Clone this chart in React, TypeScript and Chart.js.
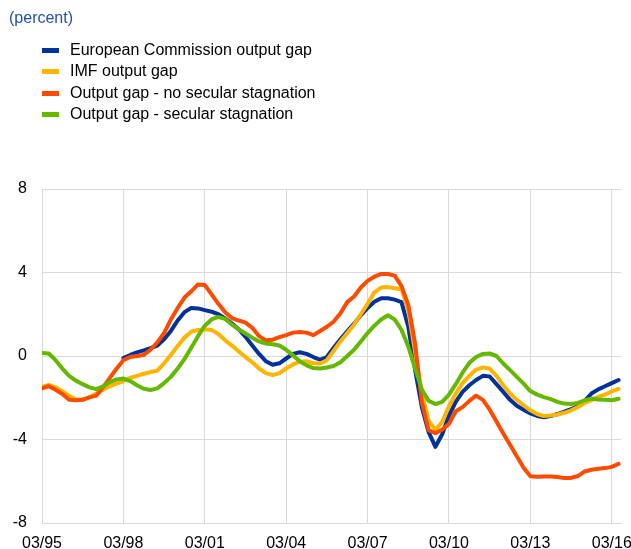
import React, { useEffect, useRef } from "react";
import { Chart, registerables } from "chart.js";

Chart.register(...registerables);

const FONT = "'Liberation Sans', Arial, Helvetica, sans-serif";

// Quarter index 0 = Q1 1995 ... 85 = Q2 2016
const tickPositions = [0, 12, 24, 36, 48, 60, 72, 84];
const tickLabels = ["03/95", "03/98", "03/01", "03/04", "03/07", "03/10", "03/13", "03/16"];
const yTicks = [-8, -4, 0, 4, 8];

const ecGap: (number | null)[] = [
  null, null, null, null, null, null, null, null, null, null, null, null,
  -0.1, 0.05, 0.17, 0.27, 0.38, 0.5, 0.8, 1.2,
  1.7, 2.1, 2.3, 2.28, 2.2, 2.12, 2.0, 1.8, 1.55, 1.28,
  0.92, 0.5, 0.1, -0.25, -0.42, -0.35, -0.12, 0.1, 0.18, 0.1,
  -0.05, -0.18, -0.05, 0.4, 0.8, 1.18, 1.55, 1.95, 2.3, 2.6,
  2.77, 2.77, 2.7, 2.58, 1.4, -0.65, -2.45, -3.65, -4.35, -3.75,
  -2.85, -2.2, -1.72, -1.4, -1.15, -0.95, -0.98, -1.35, -1.72, -2.1,
  -2.38, -2.57, -2.75, -2.87, -2.93, -2.88, -2.78, -2.67, -2.55, -2.4,
  -2.15, -1.8, -1.6, -1.45, -1.3, -1.15,
];

const imfGap: number[] = [
  -1.48, -1.38, -1.5, -1.7, -1.9, -2.08, -2.08, -1.98, -1.8, -1.62,
  -1.45, -1.32, -1.2, -1.05, -0.95, -0.85, -0.77, -0.7, -0.35, 0.05,
  0.48, 0.88, 1.16, 1.25, 1.28, 1.25, 1.05, 0.75, 0.5, 0.22,
  -0.05, -0.3, -0.6, -0.82, -0.92, -0.82, -0.6, -0.4, -0.28, -0.25,
  -0.35, -0.36, -0.2, 0.25, 0.7, 1.1, 1.5, 2.0, 2.5, 3.05,
  3.28, 3.3, 3.25, 3.2, 2.2, 0.2, -1.8, -3.1, -3.55, -3.15,
  -2.4, -1.8, -1.3, -0.95, -0.65, -0.55, -0.6, -0.95, -1.4, -1.8,
  -2.1, -2.36, -2.6, -2.78, -2.88, -2.85, -2.8, -2.72, -2.6, -2.45,
  -2.25, -2.12, -1.95, -1.85, -1.7, -1.58,
];

const noSecular: number[] = [
  -1.55, -1.45, -1.62, -1.82, -2.1, -2.12, -2.1, -1.98, -1.9, -1.5,
  -1.05, -0.6, -0.2, -0.05, 0.0, 0.05, 0.3, 0.65, 1.1, 1.75,
  2.3, 2.8, 3.1, 3.43, 3.4, 2.95, 2.5, 2.1, 1.82, 1.7,
  1.6, 1.35, 0.95, 0.75, 0.78, 0.9, 1.0, 1.12, 1.15, 1.12,
  1.0, 1.2, 1.4, 1.65, 2.05, 2.58, 2.85, 3.28, 3.6, 3.8,
  3.93, 3.93, 3.85, 3.35, 2.45, 0.6, -2.2, -3.55, -3.7, -3.52,
  -3.25, -2.65, -2.45, -2.15, -1.9, -2.1, -2.57, -3.14, -3.71, -4.25,
  -4.8, -5.35, -5.76, -5.79, -5.77, -5.77, -5.8, -5.85, -5.84, -5.75,
  -5.53, -5.45, -5.4, -5.37, -5.31, -5.17,
];

const secular: number[] = [
  0.14, 0.12, -0.2, -0.6, -0.95, -1.18, -1.35, -1.5, -1.59, -1.45,
  -1.25, -1.12, -1.08, -1.2, -1.4, -1.57, -1.63, -1.55, -1.3, -1.0,
  -0.6, -0.15, 0.4, 0.95, 1.45, 1.75, 1.87, 1.78, 1.5, 1.28,
  1.08, 0.88, 0.7, 0.6, 0.56, 0.5, 0.3, 0.03, -0.25, -0.45,
  -0.58, -0.6, -0.55, -0.48, -0.3, 0.0, 0.3, 0.7, 1.1, 1.45,
  1.75, 1.95, 1.75, 1.25, 0.45, -0.6, -1.6, -2.15, -2.3, -2.2,
  -1.85, -1.35, -0.8, -0.33, -0.05, 0.1, 0.12, 0.0, -0.36, -0.68,
  -1.0, -1.32, -1.68, -1.85, -1.97, -2.07, -2.2, -2.28, -2.3, -2.25,
  -2.12, -2.04, -2.08, -2.1, -2.12, -2.05,
];

const seriesNames = [
  "European Commission output gap",
  "IMF output gap",
  "Output gap - no secular stagnation",
  "Output gap - secular stagnation",
];
const seriesColors = ["#003299", "#FFB400", "#FF4B00", "#65B800"];
const seriesData = [ecGap, imfGap, noSecular, secular];
const drawOrder = [4, 3, 2, 1];

export default function App() {
  const ref = useRef<HTMLCanvasElement>(null);

  useEffect(() => {
    if (!ref.current) return;
    const datasets = seriesData.map((arr, k) => ({
      label: seriesNames[k],
      data: arr.map((y, i) => ({ x: i, y })),
      borderColor: seriesColors[k],
      backgroundColor: seriesColors[k],
      borderWidth: 4,
      pointRadius: 0,
      tension: 0,
      fill: false,
      spanGaps: false,
      borderJoinStyle: "round" as const,
      borderCapStyle: "round" as const,
      order: drawOrder[k],
    }));
    const chart = new Chart(ref.current, {
      type: "line",
      data: { datasets },
      options: {
        animation: false,
        responsive: false,
        layout: { padding: { top: 189, right: 10, left: 0, bottom: 0 } },
        plugins: { legend: { display: false }, tooltip: { enabled: false }, title: { display: false } },
        scales: {
          x: {
            type: "linear",
            min: 0,
            max: 85.36,
            afterBuildTicks: (s: any) => {
              s.ticks = tickPositions.map((v) => ({ value: v }));
            },
            afterFit: (s: any) => {
              s.height = 26;
              s.paddingRight = 0;
              s.paddingLeft = 0;
            },
            ticks: {
              callback: (v: any) => {
                const idx = tickPositions.indexOf(Number(v));
                return idx >= 0 ? tickLabels[idx] : "";
              },
              font: { family: FONT, size: 16 },
              color: "#000",
              padding: 11,
              maxRotation: 0,
              autoSkip: false,
            },
            grid: { color: "#d9d9d9", drawTicks: false, lineWidth: 1 },
            border: { color: "#d9d9d9" },
          },
          y: {
            min: -8,
            max: 8,
            afterBuildTicks: (s: any) => {
              s.ticks = yTicks.map((v) => ({ value: v }));
            },
            afterFit: (s: any) => {
              s.width = 42;
            },
            ticks: {
              font: { family: FONT, size: 16 },
              color: "#000",
              padding: 15,
            },
            grid: { color: "#d9d9d9", drawTicks: false, lineWidth: 1 },
            border: { color: "#d9d9d9" },
          },
        },
      },
    });
    return () => chart.destroy();
  }, []);

  const rowTops = [39.5, 61, 82.5, 104];

  return (
    <div style={{ position: "absolute", left: 0, top: 0, width: 631, height: 549, background: "#fff", fontFamily: FONT, overflow: "hidden" }}>
      <canvas ref={ref} width={631} height={549} style={{ position: "absolute", left: 0, top: 0, width: 631, height: 549 }} />
      <div style={{ position: "absolute", left: 9, top: 7.8, fontSize: 16, lineHeight: "20px", color: "#2350A8", whiteSpace: "nowrap" }}>
        (percent)
      </div>
      {seriesNames.map((name, k) => (
        <div key={name} style={{ position: "absolute", left: 0, top: rowTops[k], height: 20, whiteSpace: "nowrap" }}>
          <div style={{ position: "absolute", left: 42, top: 8, width: 17, height: 5, background: seriesColors[k] }} />
          <div style={{ position: "absolute", left: 70, top: 0, fontSize: 16, lineHeight: "20px", color: "#000" }}>{name}</div>
        </div>
      ))}
    </div>
  );
}
